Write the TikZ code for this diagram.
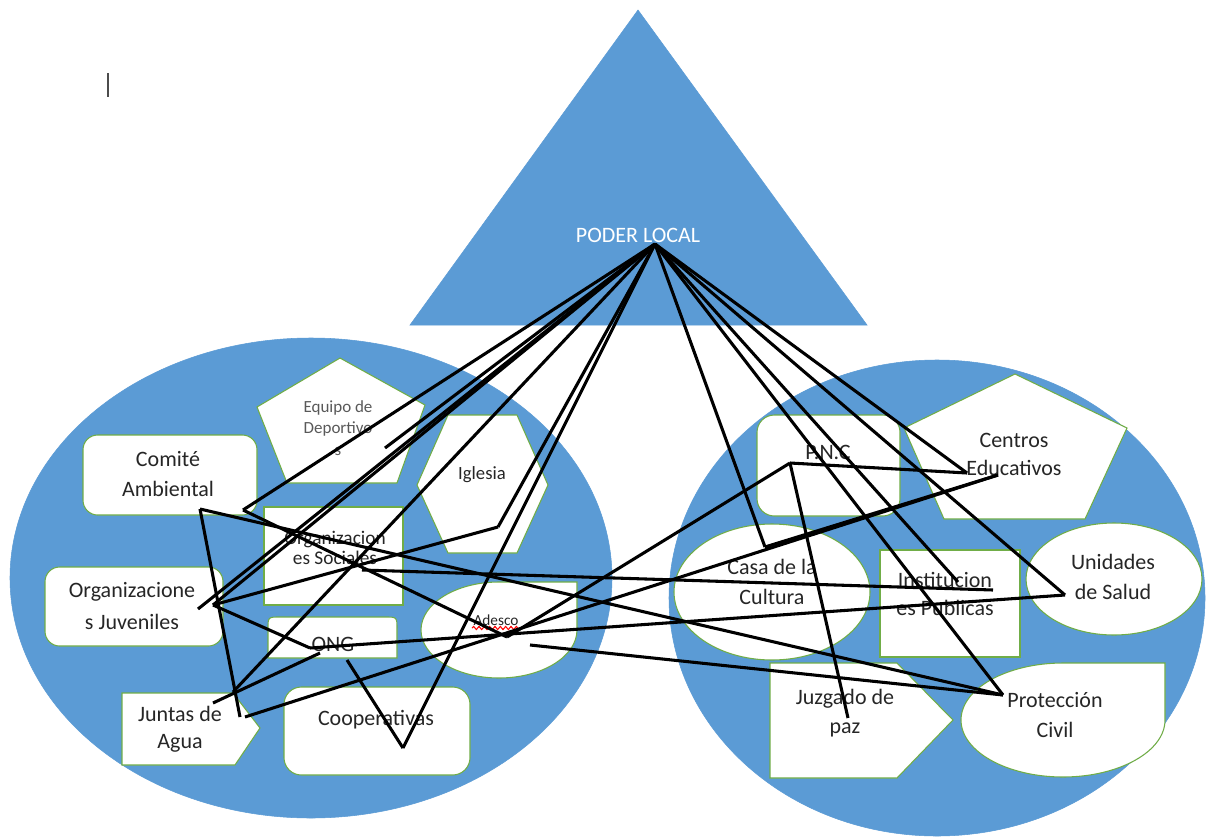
\documentclass[tikz,border=0pt]{standalone}
\usepackage{fontspec}
\setmainfont{Carlito}
\usetikzlibrary{positioning,decorations.pathmorphing}
\definecolor{azul}{HTML}{5B9BD5}
\definecolor{verde}{HTML}{70AD47}
\definecolor{texto}{HTML}{262626}
\tikzset{
	zona/.style={fill=azul,draw=azul},
	caja/.style={fill=white,draw=verde,line width=0.8pt},
	rotulo/.style={font=\fontsize{16.5}{22}\selectfont,align=center,text=texto,inner sep=0pt},
	enlace/.style={line width=2.3pt,black,line join=round}
}

\begin{document}
\begin{tikzpicture}[x=0.75pt,y=-0.75pt]
\useasboundingbox (0,0) rectangle (1207,839);
\fill[white] (0,0) rectangle (1207,839);

% fondo
\filldraw[zona] (311,578) ellipse [x radius=301,y radius=240];
\filldraw[zona] (937,598) ellipse [x radius=268,y radius=238];
\filldraw[zona] (638,10) -- (867,325) -- (410,325) -- cycle;
\draw[line width=1.5pt,black!70] (108,73) -- (108,97);

% organizaciones
\filldraw[caja] (340,358) -- (425,405) -- (397,483) -- (287,483) -- (257,407) -- cycle;
\filldraw[caja,rounded corners=11pt] (83,435) rectangle (257,515);
\filldraw[caja] (448,415) -- (517,415) -- (548,485) -- (517,553) -- (448,553) -- (417,485) -- cycle;
\filldraw[caja] (264,507) rectangle (403,605);
\filldraw[caja,rounded corners=11pt] (45,567) rectangle (223,646);
\filldraw[caja] (268,658) -- (268,629) .. controls (268,617) .. (280,617) -- (385,617) .. controls (397,617) .. (397,629) -- (397,658) -- cycle;
\filldraw[caja] (499,582) .. controls (456,582) and (421,603.5) .. (421,630) .. controls (421,656.5) and (456,678) .. (499,678) .. controls (542,678) and (577,656.5) .. (577,630) -- (577,582) -- cycle;
\filldraw[caja] (122,693) -- (233,693) -- (260,728) -- (235,765) -- (122,765) -- cycle;
\filldraw[caja,rounded corners=13pt] (284,687) rectangle (470,775);

% instituciones
\filldraw[caja,rounded corners=13pt] (757,415) rectangle (900,516);
\filldraw[caja] (1015,374) -- (1127,428) -- (1085,519) -- (944,519) -- (904,428) -- cycle;
\filldraw[caja] (772,592) ellipse [x radius=98,y radius=68];
\filldraw[caja] (880,550) rectangle (1020,657);
\filldraw[caja] (1114,579) ellipse [x radius=88,y radius=56];
\filldraw[caja] (770,663) -- (897,663) -- (953,720) -- (897,778) -- (770,778) -- cycle;
\filldraw[caja] (1063,663) .. controls (1007,663) and (961,688.5) .. (961,720) .. controls (961,751.5) and (1007,777) .. (1063,777) .. controls (1119,777) and (1165,751.5) .. (1165,720) -- (1165,663) -- cycle;

% textos
\node[rotulo,text=white] (poder) at (638,235) {PODER LOCAL};
\node[rotulo,font=\fontsize{12.75}{16}\selectfont,text=black!65] (equipo) at (338,428) {Equipo de\\Deportivo\\s};
\node[rotulo,font=\fontsize{16.5}{23}\selectfont] (comite) at (168,474) {Comité\\Ambiental};
\node[rotulo,font=\fontsize{14}{15}\selectfont] (iglesia) at (482,475) {Iglesia};
\node[rotulo,font=\fontsize{14.5}{15}\selectfont] (sociales) at (335,548) {Organizacion\\es Sociales};
\node[rotulo,font=\fontsize{16.5}{24}\selectfont] (juveniles) at (132,606) {Organizacione\\s Juveniles};
\node[rotulo] (ong) at (333,644) {ONG};
\node[rotulo,font=\fontsize{11.5}{12}\selectfont] (adesco) at (496,620) {Adesco};
\draw[red,line width=0.8pt,decorate,decoration={snake,amplitude=1.2,segment length=4}] (472,628) -- (522,628);
\node[rotulo,font=\fontsize{16.5}{20}\selectfont] (juntas) at (180,729) {Juntas de\\Agua};
\node[rotulo] (coop) at (376,720) {Cooperativas};
\node[rotulo] (pnc) at (828,452) {P.N.C};
\node[rotulo,font=\fontsize{16.5}{21}\selectfont] (centros) at (1014,454) {Centros\\Educativos};
\node[rotulo] (casa) at (772,582) {Casa de la\\Cultura};
\node[rotulo,font=\fontsize{16.5}{21}\selectfont] (inst) at (945,594) {Institucion\\es Publicas};
\node[rotulo] (salud) at (1113,577) {Unidades\\de Salud};
\node[rotulo] (juzgado) at (845,713) {Juzgado de\\paz};
\node[rotulo] (civil) at (1055,715) {Protección\\Civil};

% puntos de enlace
\coordinate (p) at (655,244);
\coordinate (ca1) at (243,510);
\coordinate (ca2) at (200,509);
\coordinate (eq) at (385,448);
\coordinate (oj1) at (198,609);
\coordinate (oj2) at (213,605);
\coordinate (ig) at (498,527);
\coordinate (os) at (362,570);
\coordinate (on1) at (310,648);
\coordinate (on2) at (347,660);
\coordinate (on3) at (320,653);
\coordinate (od1) at (507,637);
\coordinate (od2) at (530,645);
\coordinate (ja1) at (213,703);
\coordinate (ja2) at (233,692);
\coordinate (ja3) at (240,717);
\coordinate (ja4) at (245,717);
\coordinate (co) at (403,748);
\coordinate (pn) at (790,463);
\coordinate (ce1) at (967,473);
\coordinate (ce2) at (998,475);
\coordinate (cc) at (765,547);
\coordinate (ip1) at (958,582);
\coordinate (ip2) at (993,590);
\coordinate (us) at (1065,595);
\coordinate (jz) at (848,718);
\coordinate (pc) at (1003,695);

% enlaces
\foreach \a in {ca1,eq,oj1,oj2,ja2,ig,co,cc,pc,ip1,us,ce1}
	\draw[enlace] (p) -- (\a);
\foreach \a/\b in {ig/oj2,ca1/od1,od1/pn,ca2/ja3,ca2/pc,oj2/on1,on1/us,ja1/on3,ja4/ce2,cc/ce2,pn/ce1,pn/jz,os/ip2,od2/pc,on2/co}
	\draw[enlace] (\a) -- (\b);
\end{tikzpicture}
\end{document}
